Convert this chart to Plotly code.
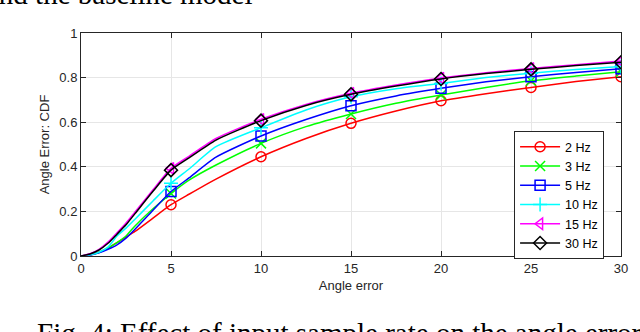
import plotly.graph_objects as go

# angle error sample points (deg) and CDF read per sample rate
angle_err = [0, 0.5, 1, 1.5, 2, 2.5, 3, 4, 5, 6, 7.5, 10, 12.5, 15, 17.5, 20, 22.5, 25, 27.5, 30]
cdf_2hz = [0, .005, .017, .036, .06, .085, .11, .17, .23, .277, .345, .445, .527, .595, .65, .696, .728, .756, .782, .804]
cdf_3hz = [0, .005, .016, .035, .06, .09, .135, .212, .28, .34, .408, .505, .58, .637, .685, .722, .756, .786, .807, .826]
cdf_5hz = [0, .004, .014, .03, .05, .08, .12, .205, .289, .35, .443, .538, .612, .674, .718, .752, .781, .804, .823, .84]
cdf_10hz = [0, .005, .017, .04, .09, .125, .165, .247, .326, .39, .49, .575, .655, .714, .75, .774, .8, .82, .836, .85]
cdf_15hz = [0, .01, .03, .062, .104, .148, .197, .297, .393, .447, .527, .613, .68, .73, .767, .798, .822, .841, .858, .874]
cdf_30hz = [0, .009, .027, .057, .098, .14, .19, .29, .385, .44, .52, .607, .675, .725, .762, .794, .818, .837, .854, .869]

labels = ["2 Hz", "3 Hz", "5 Hz", "10 Hz", "15 Hz", "30 Hz"]
series = [cdf_2hz, cdf_3hz, cdf_5hz, cdf_10hz, cdf_15hz, cdf_30hz]
colors = ["#ff0000", "#00ff00", "#0000ff", "#00ffff", "#ff00ff", "#000000"]
symbols = ["circle-open", "x-thin-open", "square-open", "cross-thin-open", "triangle-left-open", "diamond-open"]

TXT = "#262626"
FONT = "Liberation Sans, Arial, sans-serif"
SERIF = "Liberation Serif, Times New Roman, serif"

fig = go.Figure()
for lab, ys, col, sym in zip(labels, series, colors, symbols):
    # smooth curve
    fig.add_trace(go.Scatter(
        x=angle_err, y=ys, mode="lines", line=dict(color=col, width=1.5, shape="spline", smoothing=0.6),
        showlegend=False, hoverinfo="skip",
    ))
    # markers every 5 degrees
    mx = [x for x in angle_err if x > 0 and x % 5 == 0]
    my = [y for x, y in zip(angle_err, ys) if x > 0 and x % 5 == 0]
    fig.add_trace(go.Scatter(
        x=mx, y=my, mode="markers",
        marker=dict(symbol=sym, size=10, color=col, line=dict(color=col, width=1.5)),
        showlegend=False,
    ))
    # legend entry
    fig.add_trace(go.Scatter(
        x=[None], y=[None], mode="lines+markers", name=lab,
        line=dict(color=col, width=1.5),
        marker=dict(symbol=sym, size=10, color=col, line=dict(color=col, width=1.5)),
    ))

axis_common = dict(
    showline=True, linecolor=TXT, linewidth=1, mirror="ticks",
    ticks="inside", ticklen=5, tickcolor=TXT,
    showgrid=True, gridcolor="#e6e6e6", gridwidth=1, zeroline=False,
    tickfont=dict(family=FONT, size=13, color=TXT),
)

fig.update_layout(
    width=640, height=332,
    plot_bgcolor="white", paper_bgcolor="white",
    margin=dict(l=81, r=19, t=33, b=76),
    xaxis=dict(range=[0, 30], dtick=5, title=dict(text="Angle error", font=dict(family=FONT, size=13, color=TXT), standoff=6), **axis_common),
    yaxis=dict(range=[0, 1], dtick=0.2, title=dict(text="Angle Error: CDF", font=dict(family=FONT, size=13, color=TXT), standoff=6), **axis_common),
    legend=dict(
        x=0.802, y=0.56, xanchor="left", yanchor="top",
        bgcolor="white", bordercolor=TXT, borderwidth=1,
        font=dict(family=FONT, size=12.5, color="#000000"),
        tracegroupgap=0, itemwidth=40,
    ),
    showlegend=True,
    annotations=[
        dict(text="and the baseline model", xref="paper", yref="paper", x=-0.18, y=1.096,
             xanchor="left", yanchor="bottom", showarrow=False,
             font=dict(family=SERIF, size=29, color="#000000")),
        dict(text="Fig. 4: Effect of input sample rate on the angle error", xref="paper", yref="paper",
             x=-0.085, y=-0.2646, xanchor="left", yanchor="top", showarrow=False,
             font=dict(family=SERIF, size=29, color="#000000")),
    ],
)

fig.write_html("out.html", config={"displayModeBar": False},
               post_script="document.body.style.margin='0';")
